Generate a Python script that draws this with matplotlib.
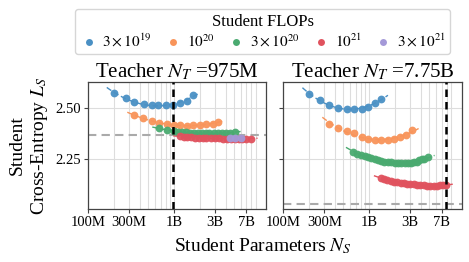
import numpy as np
import matplotlib
matplotlib.use("Agg")
import matplotlib.pyplot as plt
from matplotlib.lines import Line2D
from matplotlib.ticker import FixedLocator, LogLocator, NullFormatter

plt.rcParams['font.family'] = 'serif'
plt.rcParams['font.serif'] = ['Liberation Serif', 'DejaVu Serif']
plt.rcParams['mathtext.fontset'] = 'stix'

# legend / colours
flop_labels = [r'$3\times10^{19}$', r'$10^{20}$', r'$3\times10^{20}$', r'$10^{21}$', r'$3\times10^{21}$']
colors = ['#4a90c4', '#f8945a', '#4aaa70', '#e0525e', '#a499d8']

# teacher 975M (left panel)
teacher_left = 0.975e9
teacher_loss_left = 2.368
left_blue_n = [0.199e9, 0.274e9, 0.343e9, 0.448e9, 0.550e9, 0.656e9, 0.807e9, 0.982e9, 1.17e9, 1.41e9, 1.65e9]
left_blue_l = [2.573, 2.548, 2.528, 2.517, 2.512, 2.512, 2.513, 2.515, 2.523, 2.532, 2.563]
left_orange_n = [0.345e9, 0.44e9, 0.554e9, 0.674e9, 0.822e9, 1.0e9, 1.17e9, 1.41e9, 1.68e9, 2.0e9, 2.4e9, 2.87e9, 3.27e9]
left_orange_l = [2.465, 2.450, 2.434, 2.427, 2.422, 2.418, 2.415, 2.413, 2.415, 2.416, 2.420, 2.424, 2.431]
left_green_n = [0.674e9, 0.822e9, 1.0e9, 1.12e9, 1.24e9, 1.38e9, 1.53e9, 1.7e9, 1.9e9, 2.1e9, 2.35e9, 2.6e9,
                2.92e9, 3.25e9, 3.61e9, 4.0e9, 4.48e9, 5.1e9]
left_green_l = [2.402, 2.393, 2.387, 2.384, 2.382, 2.381, 2.380, 2.379, 2.378, 2.377, 2.377, 2.377,
                2.377, 2.377, 2.377, 2.378, 2.380, 2.382]
left_red_n = [1.18e9, 1.3e9, 1.41e9, 1.58e9, 1.75e9, 1.95e9, 2.17e9, 2.4e9, 2.69e9, 3.0e9, 3.34e9, 3.7e9,
              4.13e9, 4.6e9, 5.1e9, 5.7e9, 6.3e9, 7.0e9, 7.85e9]
left_red_l = [2.363, 2.360, 2.358, 2.357, 2.356, 2.355, 2.354, 2.353, 2.353, 2.352, 2.352, 2.351,
              2.351, 2.351, 2.351, 2.351, 2.351, 2.351, 2.351]
left_purple_n = [4.5e9, 5.2e9, 6.0e9]
left_purple_l = [2.352, 2.352, 2.352]

# teacher 7.75B (right panel)
teacher_right = 7.75e9
teacher_loss_right = 2.032
right_blue_n = [0.200e9, 0.266e9, 0.341e9, 0.437e9, 0.545e9, 0.665e9, 0.813e9, 0.973e9, 1.16e9, 1.37e9]
right_blue_l = [2.566, 2.536, 2.516, 2.500, 2.495, 2.494, 2.493, 2.505, 2.524, 2.542]
right_orange_n = [0.341e9, 0.434e9, 0.545e9, 0.665e9, 0.823e9, 0.966e9, 1.15e9, 1.37e9, 1.63e9, 1.93e9, 2.3e9, 2.66e9, 3.12e9]
right_orange_l = [2.421, 2.404, 2.388, 2.376, 2.360, 2.348, 2.343, 2.343, 2.346, 2.351, 2.360, 2.368, 2.392]
right_green_n = [0.643e9, 0.72e9, 0.802e9, 0.88e9, 0.966e9, 1.06e9, 1.16e9, 1.27e9, 1.38e9, 1.5e9, 1.65e9,
                 1.8e9, 1.99e9, 2.17e9, 2.36e9, 2.58e9, 2.81e9, 3.05e9, 3.3e9, 3.55e9, 3.82e9, 4.1e9,
                 4.36e9, 4.79e9]
right_green_l = [2.285, 2.278, 2.272, 2.266, 2.260, 2.255, 2.250, 2.246, 2.243, 2.240, 2.238,
                 2.236, 2.234, 2.232, 2.231, 2.231, 2.231, 2.233, 2.236, 2.240, 2.246, 2.250,
                 2.254, 2.263]
right_red_n = [1.36e9, 1.48e9, 1.62e9, 1.77e9, 1.93e9, 2.1e9, 2.31e9, 2.52e9, 2.76e9, 3.0e9, 3.3e9, 3.6e9,
               3.94e9, 4.3e9, 4.7e9, 5.15e9, 5.62e9, 6.15e9, 6.72e9, 7.25e9, 7.8e9]
right_red_l = [2.162, 2.156, 2.151, 2.146, 2.142, 2.139, 2.137, 2.135, 2.133, 2.131, 2.129, 2.127,
               2.125, 2.124, 2.123, 2.122, 2.122, 2.123, 2.124, 2.126, 2.128]

panels = [
    ("975M", teacher_left, teacher_loss_left,
     [(left_blue_n, left_blue_l), (left_orange_n, left_orange_l), (left_green_n, left_green_l),
      (left_red_n, left_red_l), (left_purple_n, left_purple_l)]),
    ("7.75B", teacher_right, teacher_loss_right,
     [(right_blue_n, right_blue_l), (right_orange_n, right_orange_l), (right_green_n, right_green_l),
      (right_red_n, right_red_l)]),
]

xticks = [1e8, 3e8, 1e9, 3e9, 7e9]
xticklabels = ['100M', '300M', '1B', '3B', '7B']

fig, axes = plt.subplots(1, 2, figsize=(4.69, 2.62), dpi=100, sharey=True)
fig.subplots_adjust(left=0.1876, right=0.985, bottom=0.2023, top=0.687, wspace=0.095)

for ax, (name, nt, lt, series) in zip(axes, panels):
    for i, (n, l) in enumerate(series):
        n = np.array(n)
        l = np.array(l)
        c = colors[i]
        # quick fit line through the points
        if len(n) > 3:
            lx = np.log10(n)
            p = np.polyfit(lx, l, 2)
            xs = np.linspace(lx.min() - 0.08, lx.max() + 0.08, 60)
            ax.plot(10 ** xs, np.polyval(p, xs), color=c, lw=1.0, ls='--', dashes=(4, 2), zorder=3)
        ax.plot(n, l, 'o', color=c, ms=5.6, alpha=0.95, mew=0, zorder=4)
    ax.axvline(nt, color='black', ls='--', lw=1.8, dashes=(3, 2), zorder=5)
    ax.axhline(lt, color='#aaaaaa', ls='--', lw=1.5, dashes=(4, 2.5), zorder=2)
    ax.set_xscale('log')
    ax.set_xlim(1e8, 1.2e10)
    ax.set_ylim(2.01, 2.625)
    ax.xaxis.set_major_locator(FixedLocator(xticks))
    ax.set_xticklabels(xticklabels, fontsize=10.5)
    ax.xaxis.set_minor_locator(LogLocator(base=10, subs=np.arange(2, 10)))
    ax.xaxis.set_minor_formatter(NullFormatter())
    ax.tick_params(axis='x', which='minor', length=0)
    ax.tick_params(axis='both', which='major', length=3, width=0.8, color='#444444', pad=2, labelsize=10.5)
    ax.set_yticks([2.25, 2.50])
    ax.grid(True, which='both', axis='x', color='#dddddd', lw=0.8)
    ax.grid(True, which='major', axis='y', color='#dddddd', lw=0.8)
    ax.set_axisbelow(True)
    for s in ax.spines.values():
        s.set_color('#444444')
        s.set_linewidth(0.9)
    ax.set_title(r'Teacher $N_T$ =' + name, fontsize=15, pad=3)

axes[0].set_yticklabels(['2.25', '2.50'])
axes[0].set_ylabel('Student\nCross-Entropy $L_S$', fontsize=14, labelpad=4)
fig.text(0.56, 0.04, 'Student Parameters $N_S$', ha='center', fontsize=14)

handles = [Line2D([], [], marker='o', ls='', color=c, ms=5, mew=0) for c in colors]
fig.legend(handles, flop_labels, title='Student FLOPs', ncol=5, loc='upper center',
           bbox_to_anchor=(0.56, 0.995), fontsize=11, title_fontsize=12,
           handletextpad=0.3, columnspacing=0.8, handlelength=1.2,
           borderpad=0.3, labelspacing=0.2, frameon=True, edgecolor='#cccccc', fancybox=True)

plt.savefig('out.png', dpi=100)
